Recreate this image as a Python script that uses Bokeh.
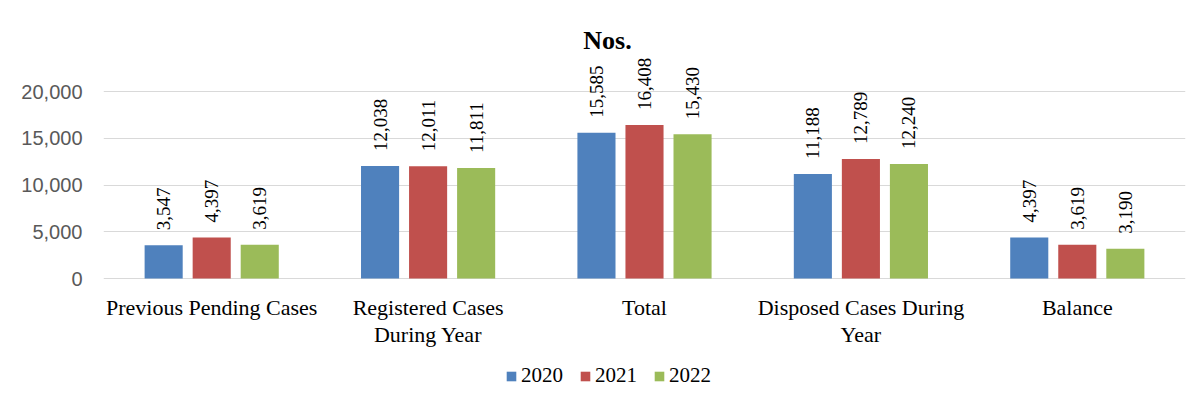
from bokeh.plotting import figure
from bokeh.models import ColumnDataSource, FactorRange, Legend, LegendItem, NumeralTickFormatter, FixedTicker
from bokeh.transform import dodge
from bokeh.core.properties import value
from bokeh.embed import file_html
from bokeh.resources import INLINE

categories = ["Previous Pending Cases", "Registered Cases During Year", "Total",
              "Disposed Cases During Year", "Balance"]
cat_labels = ["Previous Pending Cases", "Registered Cases\nDuring Year", "Total",
              "Disposed Cases During\nYear", "Balance"]
years = ["2020", "2021", "2022"]
v2020 = [3547, 12038, 15585, 11188, 4397]
v2021 = [4397, 12011, 16408, 12789, 3619]
v2022 = [3619, 11811, 15430, 12240, 3190]
y_ticks = [0, 5000, 10000, 15000, 20000]
colors = ["#4F81BD", "#C0504D", "#9BBB59"]

fmt = lambda v: f"{v:,}"
src = ColumnDataSource(dict(
    cat=categories, lab=cat_labels, zero=[0] * len(categories),
    v2020=v2020, v2021=v2021, v2022=v2022,
    l2020=[fmt(v) for v in v2020], l2021=[fmt(v) for v in v2021], l2022=[fmt(v) for v in v2022],
))

p = figure(x_range=FactorRange(*categories, range_padding=0), y_range=(-12513, 27594),
           width=1190, height=395, output_backend="svg", toolbar_location=None,
           min_border_left=103, min_border_right=5, min_border_top=20, min_border_bottom=0)
p.outline_line_color = None
p.background_fill_color = "white"
p.border_fill_color = "white"

offsets = [-0.222, 0.0, 0.222]
renderers = []
for yr, col, off in zip(years, colors, offsets):
    r = p.vbar(x=dodge("cat", off, range=p.x_range), top="v" + yr, width=0.176,
               source=src, fill_color=col, line_color=None)
    renderers.append(r)
    p.text(x=dodge("cat", off, range=p.x_range), y="v" + yr, text="l" + yr, source=src,
           angle=1.5708, text_align="left", text_baseline="middle",
           text_font=value("Liberation Serif"), text_font_size="19px", text_color="#000000",
           x_offset=0, y_offset=-15)

# category labels under the zero line
p.text(x="cat", y="zero", text="lab", source=src, text_align="center", text_baseline="top",
       text_font=value("Liberation Serif"), text_font_size="22px", text_color="#000000",
       text_line_height=1.1, y_offset=16)

# chart heading
p.text(x=["Total"], y=[25668], text=["Nos."], text_align="center", text_baseline="middle",
       text_font=value("Liberation Serif"), text_font_size="26px", text_font_style="bold",
       text_color="#000000", x_offset=-37, y_offset=2)

p.xgrid.grid_line_color = None
p.ygrid.grid_line_color = "#d9d9d9"
p.ygrid.grid_line_width = 1
p.xaxis.visible = False
p.yaxis.ticker = FixedTicker(ticks=y_ticks)
p.ygrid.ticker = FixedTicker(ticks=y_ticks)
p.yaxis.formatter = NumeralTickFormatter(format="0,0")
p.yaxis.axis_line_color = None
p.yaxis.major_tick_line_color = None
p.yaxis.minor_tick_line_color = None
p.yaxis.major_label_text_font = "Liberation Sans"
p.yaxis.major_label_text_font_size = "20px"
p.yaxis.major_label_text_color = "#595959"
p.yaxis.major_label_standoff = 15

legend = Legend(items=[LegendItem(label=yr, renderers=[r]) for yr, r in zip(years, renderers)],
                orientation="horizontal", location=(402, 7),
                label_text_font="'Liberation Serif', serif",
                label_text_font_size="21px", label_text_color="#000000",
                glyph_width=12, glyph_height=12, label_standoff=4, spacing=16,
                padding=0, margin=0, border_line_color=None, background_fill_alpha=0)
p.add_layout(legend, "center")

open("out.html", "w").write(file_html(p, INLINE))
